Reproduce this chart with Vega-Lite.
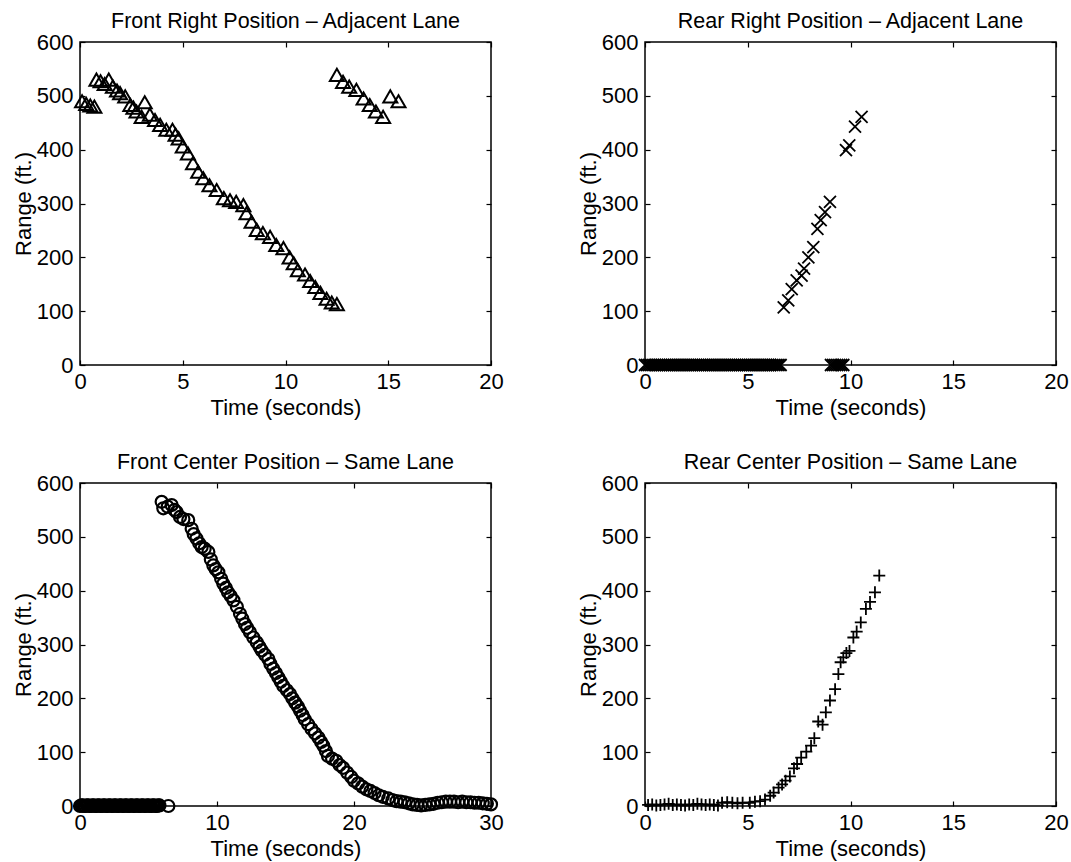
{
"$schema": "https://vega.github.io/schema/vega-lite/v6.json",
"background": "white",
"padding": {"left": 11, "top": 10, "right": 5, "bottom": 5},
"columns": 2,
"spacing": {"row": 118, "column": 154},
"bounds": "flush",
"datasets": {
"fr": [
{"t":0.1,"r":490},{"t":0.3,"r":485},{"t":0.5,"r":482},{"t":0.7,"r":480},
{"t":0.8,"r":530},{"t":1.0,"r":527},{"t":1.2,"r":522},{"t":1.4,"r":530},{"t":1.6,"r":517},{"t":1.8,"r":510},{"t":1.95,"r":505},{"t":2.2,"r":499},{"t":2.45,"r":483},{"t":2.6,"r":478},{"t":2.75,"r":471},{"t":3.0,"r":461},{"t":3.15,"r":488},{"t":3.4,"r":465},{"t":3.65,"r":455},{"t":3.9,"r":446},{"t":4.2,"r":437},{"t":4.5,"r":437},{"t":4.65,"r":428},{"t":4.8,"r":421},{"t":5.0,"r":406},{"t":5.25,"r":393},{"t":5.5,"r":375},{"t":5.75,"r":359},{"t":6.0,"r":347},{"t":6.3,"r":334},{"t":6.65,"r":325},{"t":7.0,"r":310},{"t":7.3,"r":306},{"t":7.6,"r":303},{"t":7.95,"r":297},{"t":8.1,"r":282},{"t":8.35,"r":266},{"t":8.6,"r":251},{"t":8.9,"r":245},{"t":9.25,"r":238},{"t":9.55,"r":223},{"t":9.9,"r":217},{"t":10.2,"r":200},{"t":10.4,"r":189},{"t":10.6,"r":176},{"t":10.95,"r":168},{"t":11.2,"r":156},{"t":11.45,"r":145},{"t":11.7,"r":134},{"t":12.0,"r":123},{"t":12.25,"r":116},{"t":12.5,"r":113},
{"t":12.5,"r":539},{"t":12.8,"r":526},{"t":13.1,"r":517},{"t":13.45,"r":511},{"t":13.8,"r":495},{"t":14.1,"r":483},{"t":14.4,"r":471},{"t":14.75,"r":461},{"t":15.1,"r":499},{"t":15.5,"r":490}
],
"rr": [
{"t":0.0,"r":0},{"t":0.1,"r":0},{"t":0.2,"r":0},{"t":0.3,"r":0},{"t":0.4,"r":0},{"t":0.5,"r":0},{"t":0.6,"r":0},{"t":0.7,"r":0},{"t":0.8,"r":0},{"t":0.9,"r":0},
{"t":1.0,"r":0},{"t":1.1,"r":0},{"t":1.2,"r":0},{"t":1.3,"r":0},{"t":1.4,"r":0},{"t":1.5,"r":0},{"t":1.6,"r":0},{"t":1.7,"r":0},{"t":1.8,"r":0},{"t":1.9,"r":0},
{"t":2.0,"r":0},{"t":2.1,"r":0},{"t":2.2,"r":0},{"t":2.3,"r":0},{"t":2.4,"r":0},{"t":2.5,"r":0},{"t":2.6,"r":0},{"t":2.7,"r":0},{"t":2.8,"r":0},{"t":2.9,"r":0},
{"t":3.0,"r":0},{"t":3.1,"r":0},{"t":3.2,"r":0},{"t":3.3,"r":0},{"t":3.4,"r":0},{"t":3.5,"r":0},{"t":3.6,"r":0},{"t":3.7,"r":0},{"t":3.8,"r":0},{"t":3.9,"r":0},
{"t":4.0,"r":0},{"t":4.1,"r":0},{"t":4.2,"r":0},{"t":4.3,"r":0},{"t":4.4,"r":0},{"t":4.5,"r":0},{"t":4.6,"r":0},{"t":4.7,"r":0},{"t":4.8,"r":0},{"t":4.9,"r":0},
{"t":5.0,"r":0},{"t":5.1,"r":0},{"t":5.2,"r":0},{"t":5.3,"r":0},{"t":5.4,"r":0},{"t":5.5,"r":0},{"t":5.6,"r":0},{"t":5.7,"r":0},{"t":5.8,"r":0},{"t":5.9,"r":0},
{"t":6.0,"r":0},{"t":6.1,"r":0},{"t":6.2,"r":0},{"t":6.3,"r":0},{"t":6.4,"r":0},{"t":6.5,"r":0},{"t":6.6,"r":0},
{"t":9.05,"r":0},{"t":9.15,"r":0},{"t":9.25,"r":0},{"t":9.35,"r":0},{"t":9.45,"r":0},{"t":9.55,"r":0},{"t":9.65,"r":0},
{"t":6.75,"r":107},{"t":6.97,"r":120},{"t":7.14,"r":141},{"t":7.38,"r":157},{"t":7.62,"r":166},{"t":7.74,"r":179},{"t":7.95,"r":200},{"t":8.19,"r":219},{"t":8.39,"r":253},{"t":8.55,"r":269},{"t":8.76,"r":284},{"t":9.0,"r":303},{"t":9.78,"r":399},{"t":9.94,"r":408},{"t":10.22,"r":443},{"t":10.54,"r":461}
],
"fc": [
{"t":0.0,"r":0},{"t":0.1,"r":1},{"t":0.2,"r":1},{"t":0.3,"r":0},{"t":0.4,"r":0},{"t":0.5,"r":1},{"t":0.6,"r":1},{"t":0.7,"r":0},{"t":0.8,"r":0},{"t":0.9,"r":1},
{"t":1.0,"r":1},{"t":1.1,"r":0},{"t":1.2,"r":0},{"t":1.3,"r":1},{"t":1.4,"r":1},{"t":1.5,"r":0},{"t":1.6,"r":0},{"t":1.7,"r":1},{"t":1.8,"r":1},{"t":1.9,"r":0},
{"t":2.0,"r":0},{"t":2.1,"r":1},{"t":2.2,"r":1},{"t":2.3,"r":0},{"t":2.4,"r":0},{"t":2.5,"r":1},{"t":2.6,"r":1},{"t":2.7,"r":0},{"t":2.8,"r":0},{"t":2.9,"r":1},
{"t":3.0,"r":1},{"t":3.1,"r":0},{"t":3.2,"r":0},{"t":3.3,"r":1},{"t":3.4,"r":1},{"t":3.5,"r":0},{"t":3.6,"r":0},{"t":3.7,"r":1},{"t":3.8,"r":1},{"t":3.9,"r":0},
{"t":4.0,"r":0},{"t":4.1,"r":1},{"t":4.2,"r":1},{"t":4.3,"r":0},{"t":4.4,"r":0},{"t":4.5,"r":1},{"t":4.6,"r":1},{"t":4.7,"r":0},{"t":4.8,"r":0},{"t":4.9,"r":1},
{"t":5.0,"r":1},{"t":5.1,"r":0},{"t":5.2,"r":0},{"t":5.3,"r":1},{"t":5.4,"r":1},{"t":5.5,"r":0},{"t":5.6,"r":0},{"t":5.7,"r":1},{"t":5.8,"r":1},{"t":6.45,"r":0},
{"t":5.96,"r":565},{"t":6.08,"r":553},{"t":6.4,"r":556},{"t":6.69,"r":559},{"t":6.9,"r":550},{"t":7.05,"r":546},{"t":7.3,"r":537},{"t":7.55,"r":533},{"t":7.9,"r":531},{"t":8.15,"r":515},
{"t":8.3,"r":505},{"t":8.5,"r":497},{"t":8.7,"r":488},{"t":8.88,"r":481},{"t":9.1,"r":478},{"t":9.37,"r":472},{"t":9.55,"r":458},{"t":9.73,"r":447},{"t":9.9,"r":440},{"t":10.1,"r":434},
{"t":10.3,"r":422},{"t":10.46,"r":413},{"t":10.65,"r":405},{"t":10.8,"r":397},{"t":11.0,"r":390},{"t":11.2,"r":382},{"t":11.45,"r":370},{"t":11.68,"r":357},{"t":11.85,"r":348},{"t":12.04,"r":338},
{"t":12.2,"r":331},{"t":12.4,"r":323},{"t":12.65,"r":313},{"t":12.9,"r":304},{"t":13.1,"r":296},{"t":13.26,"r":289},{"t":13.5,"r":281},{"t":13.75,"r":273},{"t":13.9,"r":264},{"t":14.1,"r":255},
{"t":14.3,"r":247},{"t":14.47,"r":239},{"t":14.65,"r":231},{"t":14.84,"r":223},{"t":15.1,"r":215},{"t":15.33,"r":208},{"t":15.5,"r":200},{"t":15.7,"r":192},{"t":15.9,"r":185},{"t":16.06,"r":177},
{"t":16.25,"r":169},{"t":16.4,"r":161},{"t":16.65,"r":152},{"t":16.9,"r":143},{"t":17.15,"r":135},{"t":17.4,"r":127},{"t":17.6,"r":119},{"t":17.76,"r":112},{"t":17.95,"r":102},{"t":18.1,"r":93},
{"t":18.4,"r":88},{"t":18.7,"r":84},{"t":18.95,"r":76},{"t":19.2,"r":71},{"t":19.5,"r":62},{"t":19.8,"r":54},{"t":20.0,"r":47},{"t":20.3,"r":42},{"t":20.6,"r":36},{"t":20.9,"r":31},
{"t":21.2,"r":28},{"t":21.5,"r":24},{"t":21.8,"r":20},{"t":22.1,"r":17},{"t":22.5,"r":14},{"t":22.8,"r":11},{"t":23.1,"r":9},{"t":23.4,"r":8},{"t":23.7,"r":7},{"t":24.0,"r":5},
{"t":24.3,"r":3},{"t":24.6,"r":2},{"t":24.9,"r":1},{"t":25.2,"r":2},{"t":25.5,"r":3},{"t":25.8,"r":4},{"t":26.1,"r":6},{"t":26.4,"r":7},{"t":26.7,"r":8},{"t":27.0,"r":8},
{"t":27.3,"r":8},{"t":27.6,"r":7},{"t":27.9,"r":8},{"t":28.2,"r":7},{"t":28.5,"r":7},{"t":28.8,"r":6},{"t":29.1,"r":6},{"t":29.4,"r":5},{"t":29.7,"r":4},{"t":30.0,"r":3}
],
"rc": [
{"t":0.15,"r":2},{"t":0.35,"r":3},{"t":0.55,"r":1},{"t":0.75,"r":2},{"t":0.95,"r":3},{"t":1.15,"r":4},{"t":1.35,"r":2},{"t":1.55,"r":3},{"t":1.75,"r":2},{"t":1.95,"r":1},
{"t":2.15,"r":3},{"t":2.35,"r":2},{"t":2.55,"r":4},{"t":2.75,"r":3},{"t":2.95,"r":2},{"t":3.15,"r":3},{"t":3.35,"r":2},{"t":3.55,"r":1},
{"t":3.75,"r":6},{"t":4.0,"r":7},{"t":4.25,"r":6},{"t":4.5,"r":5},{"t":4.75,"r":6},{"t":5.1,"r":6},{"t":5.35,"r":8},{"t":5.6,"r":9},{"t":5.84,"r":12},
{"t":6.09,"r":19},{"t":6.26,"r":25},{"t":6.5,"r":34},{"t":6.67,"r":40},{"t":6.84,"r":47},{"t":7.05,"r":55},{"t":7.25,"r":70},{"t":7.4,"r":78},{"t":7.6,"r":90},{"t":7.85,"r":101},
{"t":8.08,"r":112},{"t":8.24,"r":126},{"t":8.43,"r":157},{"t":8.64,"r":151},{"t":8.8,"r":174},{"t":9.0,"r":196},{"t":9.25,"r":217},{"t":9.41,"r":245},{"t":9.52,"r":267},{"t":9.65,"r":276},
{"t":9.8,"r":284},{"t":9.95,"r":288},{"t":10.14,"r":313},{"t":10.3,"r":324},{"t":10.5,"r":341},{"t":10.75,"r":366},{"t":10.95,"r":379},{"t":11.19,"r":397},{"t":11.4,"r":428}
]
},
"config": {
"view": {"stroke": "black", "strokeWidth": 1.5},
"axis": {"labelFont": "Liberation Sans", "labelFontSize": 22, "labelColor": "black", "titleFont": "Liberation Sans", "titleFontSize": 22, "titleFontWeight": "normal", "titleColor": "black", "tickColor": "black", "tickSize": -5, "tickWidth": 1.2, "grid": false, "domain": false, "labelFlush": false, "labelOverlap": false},
"axisX": {"labelPadding": 11, "titlePadding": 5},
"axisY": {"labelPadding": 12, "titlePadding": 1},
"title": {"font": "Liberation Sans", "fontSize": 21.5, "fontWeight": "normal", "color": "black", "offset": -1.5}
},
"concat": [
{"title": "Front Right Position – Adjacent Lane", "width": 411, "height": 323, "data": {"name": "fr"},
 "layer": [
  {"mark": {"type": "point", "shape": "triangle-up", "filled": false, "color": "black", "size": 196, "strokeWidth": 2, "opacity": 1},
   "encoding": {"x": {"field": "t", "type": "quantitative", "scale": {"domain": [0, 20], "nice": false}, "axis": {"values": [0, 5, 10, 15, 20], "title": "Time (seconds)"}},
                "y": {"field": "r", "type": "quantitative", "scale": {"domain": [0, 600], "nice": false}, "axis": {"values": [0, 100, 200, 300, 400, 500, 600], "title": "Range (ft.)"}}}},
  {"mark": {"type": "point", "opacity": 0},
   "encoding": {"x": {"field": "t", "type": "quantitative", "scale": {"domain": [0, 20], "nice": false}, "axis": {"orient": "top", "values": [0, 5, 10, 15, 20], "labels": false, "title": null}},
                "y": {"field": "r", "type": "quantitative", "scale": {"domain": [0, 600], "nice": false}, "axis": {"orient": "right", "values": [0, 100, 200, 300, 400, 500, 600], "labels": false, "title": null}}}}
 ],
 "resolve": {"axis": {"x": "independent", "y": "independent"}}},
{"title": "Rear Right Position – Adjacent Lane", "width": 411, "height": 323, "data": {"name": "rr"},
 "layer": [
  {"mark": {"type": "point", "shape": "M-1,-1L1,1M-1,1L1,-1", "filled": false, "color": "black", "size": 144, "strokeWidth": 1.8, "opacity": 1},
   "encoding": {"x": {"field": "t", "type": "quantitative", "scale": {"domain": [0, 20], "nice": false}, "axis": {"values": [0, 5, 10, 15, 20], "title": "Time (seconds)"}},
                "y": {"field": "r", "type": "quantitative", "scale": {"domain": [0, 600], "nice": false}, "axis": {"values": [0, 100, 200, 300, 400, 500, 600], "title": "Range (ft.)"}}}},
  {"mark": {"type": "point", "opacity": 0},
   "encoding": {"x": {"field": "t", "type": "quantitative", "scale": {"domain": [0, 20], "nice": false}, "axis": {"orient": "top", "values": [0, 5, 10, 15, 20], "labels": false, "title": null}},
                "y": {"field": "r", "type": "quantitative", "scale": {"domain": [0, 600], "nice": false}, "axis": {"orient": "right", "values": [0, 100, 200, 300, 400, 500, 600], "labels": false, "title": null}}}}
 ],
 "resolve": {"axis": {"x": "independent", "y": "independent"}}},
{"title": "Front Center Position – Same Lane", "width": 411, "height": 323, "data": {"name": "fc"},
 "layer": [
  {"mark": {"type": "point", "shape": "circle", "filled": false, "color": "black", "size": 144, "strokeWidth": 2.2, "opacity": 1},
   "encoding": {"x": {"field": "t", "type": "quantitative", "scale": {"domain": [0, 30], "nice": false}, "axis": {"values": [0, 10, 20, 30], "title": "Time (seconds)"}},
                "y": {"field": "r", "type": "quantitative", "scale": {"domain": [0, 600], "nice": false}, "axis": {"values": [0, 100, 200, 300, 400, 500, 600], "title": "Range (ft.)"}}}},
  {"mark": {"type": "point", "opacity": 0},
   "encoding": {"x": {"field": "t", "type": "quantitative", "scale": {"domain": [0, 30], "nice": false}, "axis": {"orient": "top", "values": [0, 10, 20, 30], "labels": false, "title": null}},
                "y": {"field": "r", "type": "quantitative", "scale": {"domain": [0, 600], "nice": false}, "axis": {"orient": "right", "values": [0, 100, 200, 300, 400, 500, 600], "labels": false, "title": null}}}}
 ],
 "resolve": {"axis": {"x": "independent", "y": "independent"}}},
{"title": "Rear Center Position – Same Lane", "width": 411, "height": 323, "data": {"name": "rc"},
 "layer": [
  {"mark": {"type": "point", "shape": "M-1,0L1,0M0,-1L0,1", "filled": false, "color": "black", "size": 144, "strokeWidth": 1.8, "opacity": 1},
   "encoding": {"x": {"field": "t", "type": "quantitative", "scale": {"domain": [0, 20], "nice": false}, "axis": {"values": [0, 5, 10, 15, 20], "title": "Time (seconds)"}},
                "y": {"field": "r", "type": "quantitative", "scale": {"domain": [0, 600], "nice": false}, "axis": {"values": [0, 100, 200, 300, 400, 500, 600], "title": "Range (ft.)"}}}},
  {"mark": {"type": "point", "opacity": 0},
   "encoding": {"x": {"field": "t", "type": "quantitative", "scale": {"domain": [0, 20], "nice": false}, "axis": {"orient": "top", "values": [0, 5, 10, 15, 20], "labels": false, "title": null}},
                "y": {"field": "r", "type": "quantitative", "scale": {"domain": [0, 600], "nice": false}, "axis": {"orient": "right", "values": [0, 100, 200, 300, 400, 500, 600], "labels": false, "title": null}}}}
 ],
 "resolve": {"axis": {"x": "independent", "y": "independent"}}}
]
}
